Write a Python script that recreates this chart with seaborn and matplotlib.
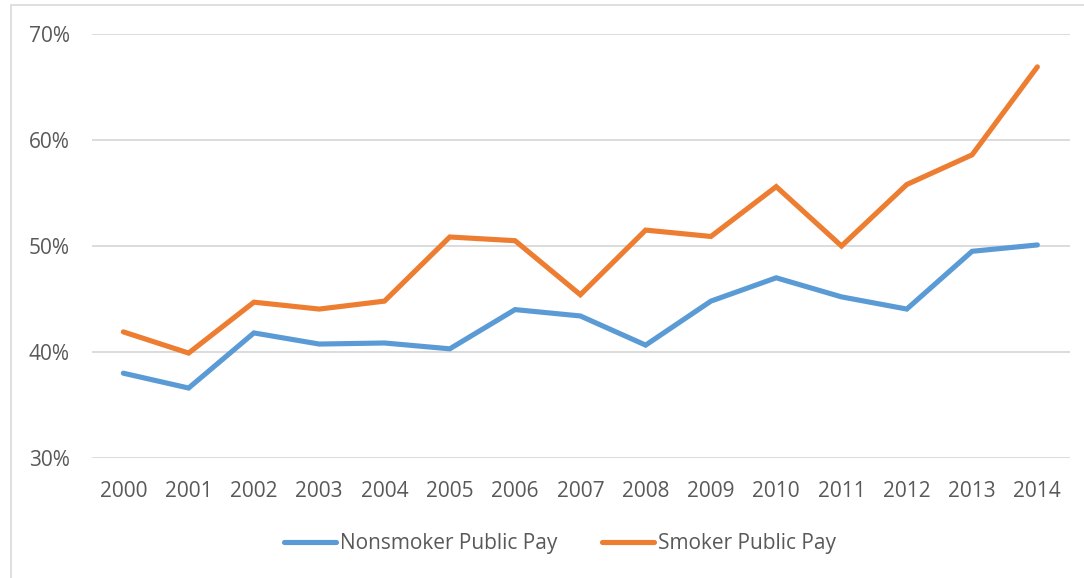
import matplotlib
matplotlib.use("Agg")
import matplotlib.pyplot as plt
import seaborn as sns
import pandas as pd
from matplotlib.patches import Rectangle
from matplotlib.ticker import FuncFormatter

years = list(range(2000, 2015))
nonsmoker = [38.0, 36.6, 41.8, 40.75, 40.85, 40.3, 44.0, 43.4, 40.65, 44.8, 47.0, 45.2, 44.05, 49.5, 50.1]
smoker = [41.9, 39.9, 44.7, 44.05, 44.8, 50.85, 50.5, 45.4, 51.5, 50.9, 55.6, 50.0, 55.8, 58.6, 66.9]
series_names = ["Nonsmoker Public Pay", "Smoker Public Pay"]
colors = ["#5B9BD5", "#ED7D31"]

df = pd.DataFrame({
    "idx": list(range(len(years))) * 2,
    "value": nonsmoker + smoker,
    "series": [series_names[0]] * len(years) + [series_names[1]] * len(years),
})

sns.set_style("white")
plt.rcParams['font.family'] = ['Open Sans', 'DejaVu Sans']

W, H = 1084, 578
fig = plt.figure(figsize=(W / 100, H / 100), dpi=100)
ax = fig.add_axes([92 / W, 1 - 458 / H, (1070 - 92) / W, (458 - 34) / H])

sns.lineplot(data=df, x="idx", y="value", hue="series", palette=colors,
             linewidth=3.7, ax=ax, legend=True)
for ln in ax.get_lines():
    ln.set_solid_capstyle("round")
    ln.set_solid_joinstyle("miter")

ax.set_xlim(-0.48, 14.5)
ax.set_ylim(30, 70)
ax.set_yticks([30, 40, 50, 60, 70])
ax.yaxis.set_major_formatter(FuncFormatter(lambda v, p: f"{int(v)}%"))
ax.set_xticks(range(len(years)))
ax.set_xticklabels([str(y) for y in years])
ax.grid(axis="y", color="#d9d9d9", linewidth=1.3)
ax.set_axisbelow(True)
for s in ax.spines.values():
    s.set_visible(False)
ax.tick_params(axis="both", length=0, labelsize=15, colors="#595959")
ax.tick_params(axis="y", pad=16)
ax.tick_params(axis="x", pad=16.5)
ax.set_xlabel("")
ax.set_ylabel("")

leg = ax.legend(loc="center", bbox_to_anchor=(560 / W, 1 - 544 / H),
                bbox_transform=fig.transFigure, ncol=2, frameon=False,
                fontsize=15, handlelength=2.5, handletextpad=0.2,
                columnspacing=2.1, labelcolor="#595959")
for h in leg.get_lines():
    h.set_linewidth(3.7)
    h.set_solid_capstyle("round")

# outer chart frame
fig.patches.append(Rectangle((11 / W, -0.05), 1.1, 1 - 5 / H + 0.05,
                             transform=fig.transFigure, fill=False,
                             edgecolor="#d9d9d9", linewidth=1.2))

fig.savefig("out.png", dpi=100)
